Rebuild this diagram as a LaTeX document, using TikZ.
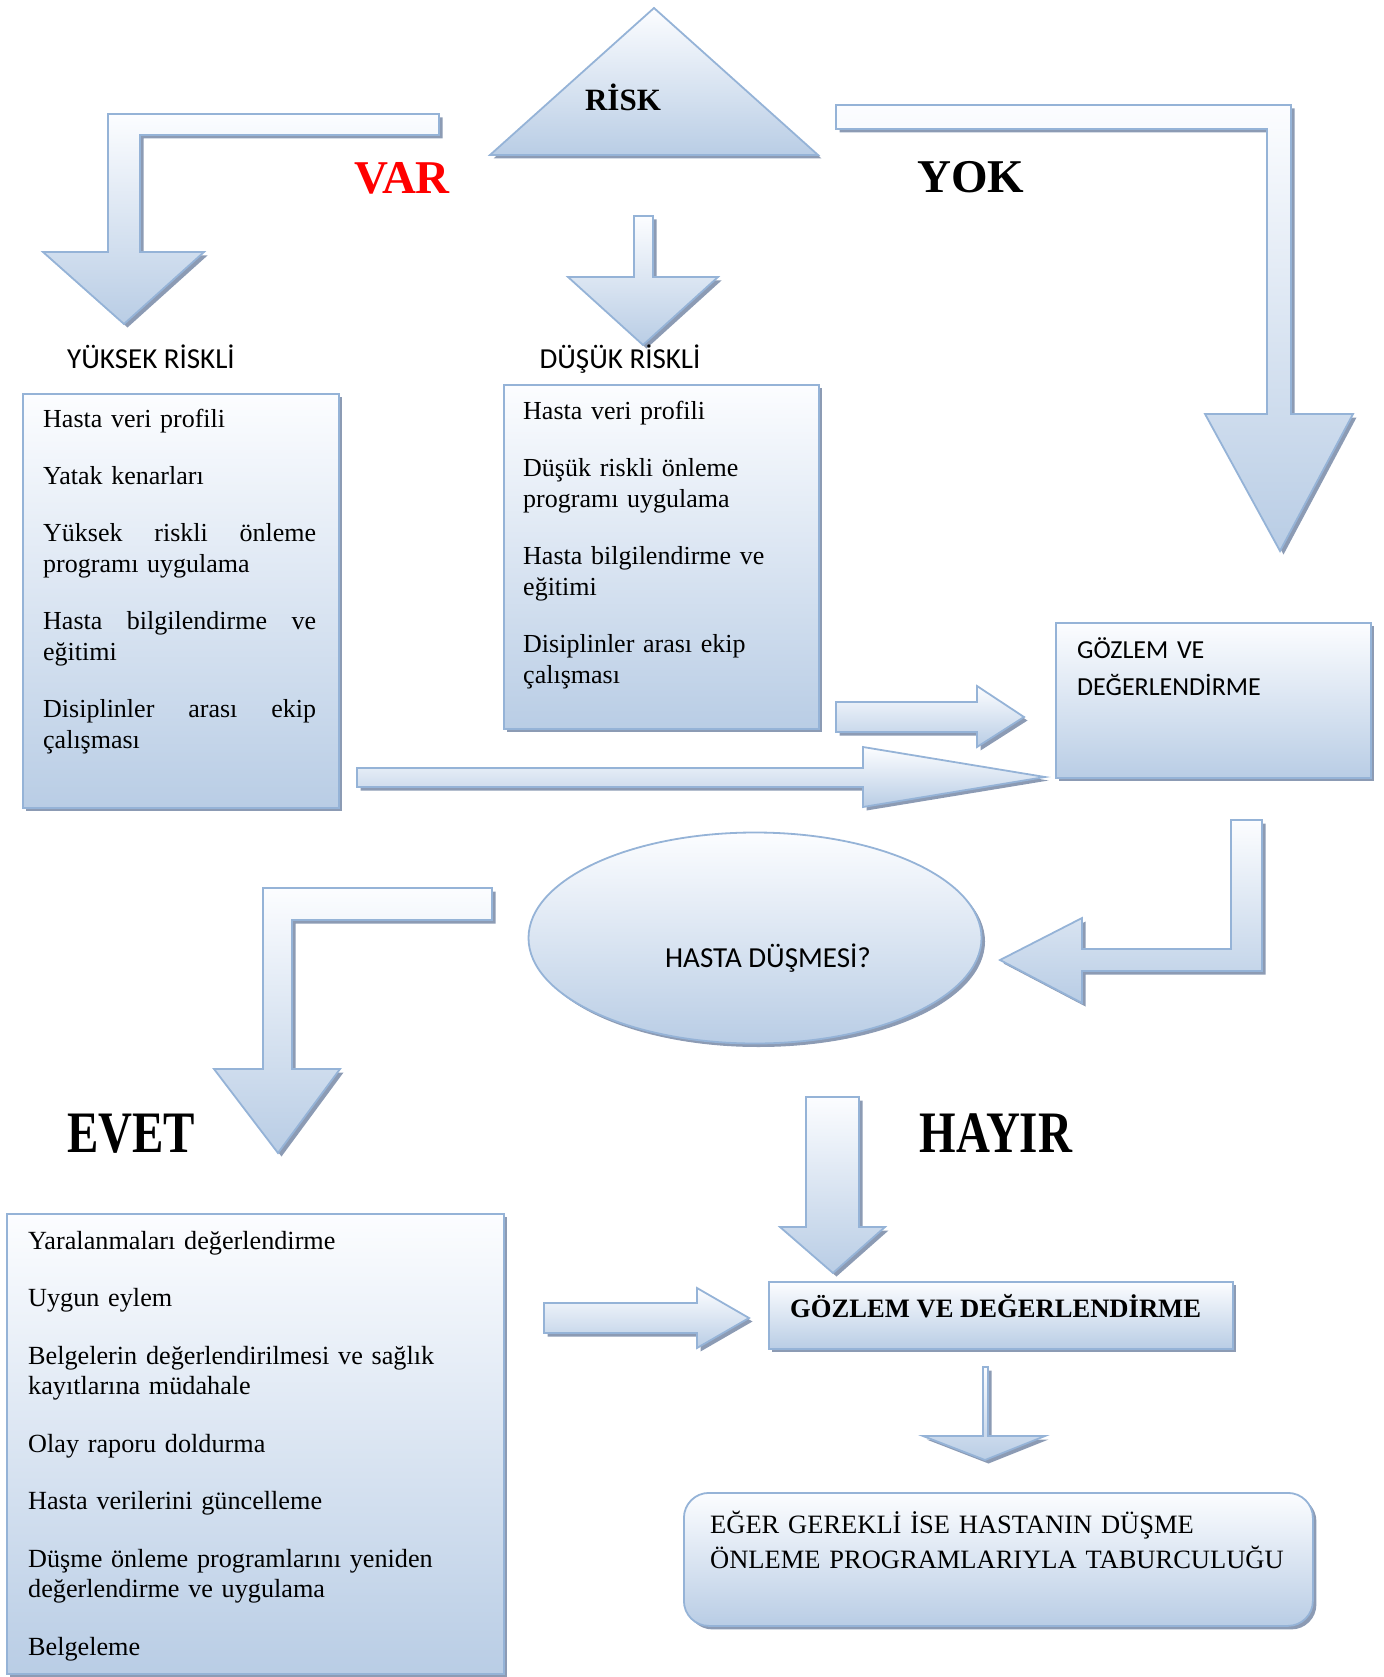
\documentclass[tikz,border=0pt]{standalone}
\usepackage{fontspec}
\usepackage{graphicx}
\setmainfont{Liberation Serif}
\newfontfamily\calibrifont{Carlito}
\usetikzlibrary{shapes.geometric,shadows}
\definecolor{bord}{RGB}{149,179,215}
\definecolor{topc}{RGB}{252,253,255}
\definecolor{botc}{RGB}{185,205,229}
\definecolor{shadc}{RGB}{140,155,180}
\newcommand{\jline}[3]{\leavevmode\hbox to 273pt{#1\hfill #2\hfill #3}}
\tikzset{
  shp/.style={draw=bord, line width=1.8pt, line join=miter, top color=topc, bottom color=botc,
    drop shadow={shadow xshift=3.5pt, shadow yshift=-3.5pt, fill=shadc, opacity=1}},
  boxnode/.style={shp, rectangle, anchor=north west, inner sep=0pt},
  boxtext/.style={anchor=base west, inner sep=0pt, text width=#1,
    font=\fontsize{26}{31}\selectfont},
  biglabel/.style={anchor=base, inner sep=0pt, font=\fontsize{47}{56}\selectfont\bfseries},
  sanslabel/.style={anchor=base, inner sep=0pt, font=\calibrifont\fontsize{29}{35}\selectfont},
}
\begin{document}
\begin{tikzpicture}[x=1pt,y=-1pt]
\useasboundingbox (0,0) rectangle (1383,1677);

% RISK triangle
\path[shp] (654,8) -- (818,155) -- (490,155) -- cycle;
\node[anchor=base, inner sep=0pt, font=\fontsize{31}{36}\selectfont\bfseries] (risk) at (623,111) {RİSK};

% VAR bent arrow
\path[shp] (439,114) -- (108,114) -- (108,252) -- (43,252) -- (124,324) -- (204,252)
  -- (140,252) -- (140,135) -- (439,135) -- cycle;
\node[biglabel, text=red] (var) at (402,194) {VAR};

% YOK bent arrow
\path[shp] (836,105) -- (1291,105) -- (1291,414) -- (1353,414) -- (1280,551) -- (1205,414)
  -- (1267,414) -- (1267,129) -- (836,129) -- cycle;
\node[biglabel] (yok) at (971,193) {YOK};

% small arrow to DUSUK
\path[shp] (634,216) -- (653,216) -- (653,277) -- (718,277) -- (643,345) -- (568,277)
  -- (634,277) -- cycle;

\node[sanslabel] (yuksekl) at (151,368) {YÜKSEK RİSKLİ};
\node[sanslabel] (dusukl) at (620,368) {DÜŞÜK RİSKLİ};

% left box
\node[boxnode, minimum width=316pt, minimum height=414pt] (hibox) at (22,393) {};
\node[boxtext=273pt] (hitext) at (43,427) {\setlength{\parskip}{26pt}\raggedright
Hasta veri profili\par
Yatak kenarları\par
\jline{Yüksek}{riskli}{önleme}\newline programı uygulama\par
\jline{Hasta}{bilgilendirme}{ve}\newline eğitimi\par
\jline{Disiplinler}{arası}{ekip}\newline çalışması};

% middle box
\node[boxnode, minimum width=315pt, minimum height=344pt] (lobox) at (503,384) {};
\node[boxtext=285pt] (lotext) at (523,419) {\setlength{\parskip}{26pt}\raggedright
Hasta veri profili\par
Düşük riskli önleme\newline programı uygulama\par
Hasta bilgilendirme ve\newline eğitimi\par
Disiplinler arası ekip\newline çalışması};

% right box
\node[boxnode, minimum width=315pt, minimum height=155pt] (gozbox) at (1055,622) {};
\node[anchor=base west, inner sep=0pt, text width=280pt, align=left,
  font=\calibrifont\fontsize{26}{37}\selectfont] (goztext) at (1077,658)
  {GÖZLEM VE\\DEĞERLENDİRME};

% arrows into right box
\path[shp] (836,702) -- (977,702) -- (977,686) -- (1024,717) -- (977,747) -- (977,732)
  -- (836,732) -- cycle;
\path[shp] (357,768) -- (863,768) -- (863,747) -- (1045,777) -- (863,807) -- (863,787)
  -- (357,787) -- cycle;

% bent arrow to ellipse
\path[shp] (1231,820) -- (1262,820) -- (1262,971) -- (1082,971) -- (1082,1003) -- (1000,960)
  -- (1082,918) -- (1082,949) -- (1231,949) -- cycle;

% ellipse
\node[shp, ellipse, minimum width=453pt, minimum height=211pt, inner sep=0pt] (fall) at (755,938) {};
\node[sanslabel] (falltext) at (768,967) {HASTA DÜŞMESİ?};

% EVET bent arrow
\path[shp] (492,888) -- (263,888) -- (263,1069) -- (214,1069) -- (278,1153) -- (340,1069)
  -- (292,1069) -- (292,920) -- (492,920) -- cycle;
\node[biglabel] (evet) at (131,1152) {\scalebox{1}[1.25]{EVET}};
\node[biglabel] (hayir) at (996,1152) {\scalebox{1}[1.25]{HAYIR}};

% HAYIR down arrow
\path[shp] (806,1097) -- (859,1097) -- (859,1227) -- (885,1227) -- (833,1273) -- (780,1227)
  -- (806,1227) -- cycle;

% EVET box
\node[boxnode, minimum width=497pt, minimum height=460pt] (evbox) at (6,1213) {};
\node[boxtext=470pt, font=\fontsize{26.2}{30.5}\selectfont] (evtext) at (28,1249) {\setlength{\parskip}{27pt}\raggedright
Yaralanmaları değerlendirme\par
Uygun eylem\par
Belgelerin değerlendirilmesi ve sağlık\newline kayıtlarına müdahale\par
Olay raporu doldurma\par
Hasta verilerini güncelleme\par
Düşme önleme programlarını yeniden\newline değerlendirme ve uygulama\par
Belgeleme};

% arrow to bottom GOZLEM
\path[shp] (544,1303) -- (697,1303) -- (697,1288) -- (749,1318) -- (697,1348) -- (697,1333)
  -- (544,1333) -- cycle;

% bottom GOZLEM box
\node[boxnode, minimum width=464pt, minimum height=67pt] (goz2box) at (768,1281) {};
\node[anchor=base west, inner sep=0pt, font=\fontsize{26.6}{31}\selectfont\bfseries] (goz2text)
  at (790,1317) {GÖZLEM VE DEĞERLENDİRME};

% thin arrow
\path[shp] (983,1367) -- (988,1367) -- (988,1436) -- (1045,1436) -- (985,1460) -- (923,1436)
  -- (983,1436) -- cycle;

% rounded box
\node[boxnode, rounded corners=25pt, minimum width=629pt, minimum height=133pt] (dischbox) at (683,1492) {};
\node[anchor=base west, inner sep=0pt, text width=600pt, align=left,
  font=\fontsize{26.5}{35}\selectfont] (dischtext) at (710,1533)
  {EĞER GEREKLİ İSE HASTANIN DÜŞME\\ÖNLEME PROGRAMLARIYLA TABURCULUĞU};
\end{tikzpicture}
\end{document}
